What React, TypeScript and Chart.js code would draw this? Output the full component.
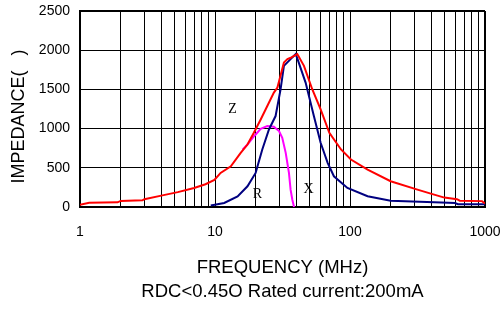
import React, { useEffect, useRef } from 'react';
import { Chart, registerables } from 'chart.js';

Chart.register(...registerables);

// Z curve (red)
const zFreq = [1, 1.17, 1.9, 2, 2.9, 3, 4, 5.3, 7, 8.5, 9.9, 11, 13.1, 15.5, 17.4, 19.4, 21.8, 24.4, 27.3, 29, 32.4, 34.4, 36, 40.7, 45.6, 52.5, 60.6, 70.3, 85.8, 101.6, 135, 200, 316, 420, 500, 620, 650, 950, 1000];
const zVal = [30, 55, 60, 78, 85, 100, 145, 190, 243, 290, 345, 435, 520, 691, 797, 947, 1117, 1288, 1459, 1523, 1843, 1886, 1900, 1950, 1800, 1502, 1245, 947, 734, 606, 478, 329, 222, 158, 120, 100, 80, 75, 45];

// X curve (navy)
const xFreq = [9.3, 11.7, 14.7, 17.4, 20, 22.4, 25.1, 28.1, 30.6, 32.4, 36.3, 39.6, 41, 46.9, 54, 60.6, 68.3, 76, 95.7, 135, 200, 420, 600, 630, 1000];
const xVal = [20, 51, 136, 264, 435, 733, 989, 1160, 1501, 1800, 1886, 1950, 1880, 1587, 1160, 819, 563, 392, 243, 137, 80, 60, 50, 35, 35];

// R curve (magenta)
const rFreq = [16, 17.4, 19.4, 20, 21.8, 24.4, 27.3, 29.8, 31.5, 33.4, 35.3, 36.3, 37.4, 38.5];
const rVal = [730, 797, 900, 925, 998, 1032, 1024, 968, 883, 691, 435, 221, 93, 0];

// Curve labels
const curveLabels = ['Z', 'R', 'X'];
const labelFreq = [13.5, 20.6, 49.4];
const labelVal = [1245, 157, 220];

// Axis ticks
const xTicks = [1, 2, 3, 4, 5, 6, 7, 8, 9, 10, 20, 30, 40, 50, 60, 70, 80, 90, 100, 200, 300, 400, 500, 600, 700, 800, 900, 1000];
const xTickLabels = [1, 10, 100, 1000];
const yMin = 0;
const yMax = 2500;
const yStep = 500;

const xTitle = ['FREQUENCY (MHz)', 'RDC<0.45O Rated current:200mA'];
const yTitle = 'IMPEDANCE(   )   ';

const pts = (f: number[], v: number[]) => f.map((x, i) => ({ x, y: v[i] }));

export default function App() {
  const ref = useRef<HTMLCanvasElement>(null);
  useEffect(() => {
    const canvas = ref.current!;
    Chart.defaults.font.family = "'Liberation Sans', Arial, sans-serif";
    Chart.defaults.color = '#000';
    const labelPlugin = {
      id: 'curveLabels',
      afterDatasetsDraw(chart: any) {
        const { ctx, scales } = chart;
        ctx.save();
        ctx.font = "14px 'Liberation Serif', 'Times New Roman', serif";
        ctx.fillStyle = '#000';
        ctx.textAlign = 'center';
        ctx.textBaseline = 'middle';
        curveLabels.forEach((t, i) => {
          ctx.fillText(t, scales.x.getPixelForValue(labelFreq[i]), scales.y.getPixelForValue(labelVal[i]));
        });
        ctx.restore();
      },
    };
    const common = { borderWidth: 2, pointRadius: 0, tension: 0, fill: false };
    const chart = new Chart(canvas, {
      type: 'line',
      data: {
        datasets: [
          { ...common, label: 'Z', data: pts(zFreq, zVal), borderColor: '#ff0000' },
          { ...common, label: 'X', data: pts(xFreq, xVal), borderColor: '#000080' },
          { ...common, label: 'R', data: pts(rFreq, rVal), borderColor: '#ff00ff' },
        ],
      },
      options: {
        animation: false,
        responsive: false,
        devicePixelRatio: 1,
        layout: { padding: { top: 11, right: 19, bottom: 0, left: 0 } },
        plugins: { legend: { display: false }, tooltip: { enabled: false } },
        scales: {
          x: {
            type: 'logarithmic',
            min: 1,
            max: 1000,
            afterBuildTicks: (scale: any) => {
              scale.ticks = xTicks.map((v) => ({ value: v }));
            },
            afterFit: (scale: any) => {
              scale.height = 102;
              scale.paddingLeft = 0;
              scale.paddingRight = 0;
            },
            ticks: {
              autoSkip: false,
              maxRotation: 0,
              padding: 17,
              font: { size: 14 },
              color: '#000',
              callback: (value: any) => (xTickLabels.includes(Number(value)) ? String(value) : ''),
            },
            grid: {
              color: '#000',
              drawTicks: false,
              lineWidth: (ctx: any) => (ctx.tick && ctx.tick.value === 1000 ? 2 : 1),
            },
            border: { display: true, color: '#000', width: 2 },
            title: {
              display: true,
              text: xTitle,
              font: { size: 18.5, lineHeight: 24 / 18.5 },
              color: '#000',
              padding: { top: 0, bottom: 5 },
            },
          },
          y: {
            type: 'linear',
            min: yMin,
            max: yMax,
            afterFit: (scale: any) => {
              scale.width = 80;
              scale.paddingTop = 0;
              scale.paddingBottom = 0;
            },
            ticks: {
              stepSize: yStep,
              padding: 10,
              font: { size: 14 },
              color: '#000',
              callback: (value: any) => String(value),
            },
            grid: {
              color: '#000',
              drawTicks: false,
              lineWidth: (ctx: any) => (ctx.tick && ctx.tick.value === yMax ? 2 : 1),
            },
            border: { display: true, color: '#000', width: 2 },
            title: {
              display: true,
              text: yTitle,
              font: { size: 18, lineHeight: 1.2 },
              color: '#000',
              padding: { top: 8, bottom: 0 },
            },
          },
        },
      },
      plugins: [labelPlugin],
    } as any);
    return () => chart.destroy();
  }, []);
  return (
    <div style={{ position: 'fixed', left: 0, top: 0, width: 504, height: 309, background: '#fff' }}>
      <canvas ref={ref} width={504} height={309} style={{ width: 504, height: 309, display: 'block' }} />
    </div>
  );
}
